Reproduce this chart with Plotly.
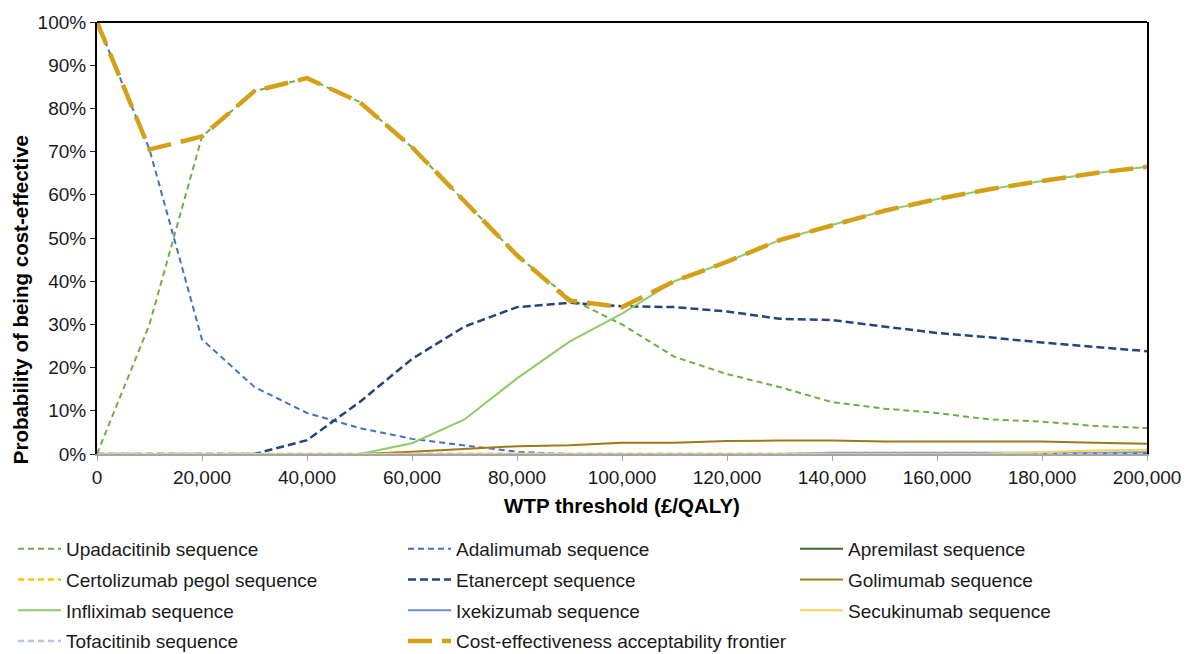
import plotly.graph_objects as go

wtp = [0, 10000, 20000, 30000, 40000, 50000, 60000, 70000, 80000, 90000, 100000,
       110000, 120000, 130000, 140000, 150000, 160000, 170000, 180000, 190000, 200000]

upadacitinib = [0, 30, 73.5, 84, 87, 81.5, 71, 58.5, 46, 36, 30,
                22.5, 18.5, 15.5, 12, 10.5, 9.5, 8, 7.5, 6.5, 6]
adalimumab = [100, 70.5, 26.5, 15.5, 9.5, 6, 3.5, 2, 0.5, 0, 0,
              0, 0, 0, 0, 0, 0, 0, 0, 0, 0]
apremilast = [0] * 21
certolizumab = [0] * 21
etanercept = [0, 0, 0, 0, 3.2, 12, 22, 29.5, 34, 35, 34.2,
              34, 33, 31.3, 31, 29.5, 28, 27, 25.8, 24.8, 23.8]
golimumab = [0, 0, 0, 0, 0, 0, 0.5, 1.2, 1.8, 2.0, 2.6,
             2.6, 3.0, 3.1, 3.1, 2.9, 2.9, 2.9, 2.9, 2.6, 2.4]
infliximab = [0, 0, 0, 0, 0, 0, 2.5, 8, 17.5, 26, 32.5,
              40, 44.5, 49.5, 53, 56.3, 59, 61.3, 63.2, 65, 66.5]
ixekizumab = [0, 0, 0, 0, 0, 0, 0, 0, 0, 0, 0,
              0, 0, 0, 0.3, 0.3, 0.2, 0.2, 0.2, 0.3, 0.4]
secukinumab = [0, 0, 0, 0, 0, 0, 0, 0, 0, 0, 0,
               0, 0, 0, 0, 0, 0, 0.1, 0.4, 0.8, 1.0]
tofacitinib = [0] * 21
ceaf = [100, 70.5, 73.5, 84, 87, 81.5, 71, 58.5, 46, 35.5, 34,
        40, 44.5, 49.5, 53, 56.3, 59, 61.3, 63.2, 65, 66.5]

# name, values, colour, width, dash, legend column
series = [
    ("Upadacitinib sequence", upadacitinib, "#70AD47", 2, "6px,4px", "legend"),
    ("Adalimumab sequence", adalimumab, "#4472C4", 2, "6px,4px", "legend2"),
    ("Apremilast sequence", apremilast, "#43682B", 2, "solid", "legend3"),
    ("Certolizumab pegol sequence", certolizumab, "#FFC000", 2.5, "6px,4px", "legend"),
    ("Etanercept sequence", etanercept, "#264478", 2.5, "8px,4px", "legend2"),
    ("Golimumab sequence", golimumab, "#9E7A17", 2, "solid", "legend3"),
    ("Infliximab sequence", infliximab, "#8FCB6A", 2, "solid", "legend"),
    ("Ixekizumab sequence", ixekizumab, "#698ED0", 2, "solid", "legend2"),
    ("Secukinumab sequence", secukinumab, "#FFD54F", 2, "solid", "legend3"),
    ("Tofacitinib sequence", tofacitinib, "#B4C7E7", 2.5, "6px,4px", "legend"),
    ("Cost-effectiveness acceptability frontier", ceaf, "#D4A017", 4.5, "24px,10px", "legend2"),
]

fig = go.Figure()
for i, (name, vals, color, width, dash, leg) in enumerate(series):
    fig.add_trace(go.Scatter(
        x=wtp, y=[v / 100 for v in vals], name=name, mode="lines",
        line=dict(color=color, width=width, dash=dash),
        legend=leg, legendgroup=f"g{i}",
    ))

font = "Liberation Sans, Arial, sans-serif"
W, H = 1186, 646
L, R, T, B = 89, 47, 14, 200
PW = W - L - R


def legend_cfg(xpix):
    return dict(
        orientation="v", xref="paper", yref="container",
        x=(xpix - L) / PW, y=1 - 522 / H, xanchor="left", yanchor="top",
        font=dict(size=19, color="#1a1a1a"), bgcolor="rgba(0,0,0,0)",
        traceorder="grouped", tracegroupgap=3, itemwidth=43,
    )


fig.update_layout(
    width=W, height=H,
    margin=dict(l=L, r=R, t=T, b=B),
    paper_bgcolor="white", plot_bgcolor="white",
    font=dict(family=font, size=19, color="#1a1a1a"),
    showlegend=True,
    legend=legend_cfg(5),
    legend2=legend_cfg(395),
    legend3=legend_cfg(787),
    xaxis=dict(
        range=[0, 200000], tickvals=wtp[::2], tickformat=",",
        showgrid=False, zeroline=False, showline=True, linecolor="#A6A6A6",
        linewidth=1.5, ticks="outside", ticklen=5, tickcolor="#A6A6A6",
        automargin=False,
        title=dict(text="<b>WTP threshold (£/QALY)</b>", font=dict(size=20.5, color="#000000"),
                   standoff=12),
    ),
    yaxis=dict(
        range=[0, 1], dtick=0.1, tickformat=".0%", automargin=False,
        showgrid=False, zeroline=False, showline=True, linecolor="#000000",
        linewidth=2, mirror=True, ticks="outside", ticklen=5, tickcolor="#262626",
    ),
    shapes=[dict(type="line", xref="paper", yref="paper", x0=0, x1=1, y0=1, y1=1,
                 line=dict(color="#000000", width=2))],
    annotations=[dict(
        text="<b>Probability of being cost-effective</b>", textangle=-90,
        xref="paper", yref="paper", x=-0.0733, y=0.356, xanchor="center", yanchor="middle",
        showarrow=False, font=dict(size=20.5, color="#000000"),
    )],
)

fig.write_html("out.html")
